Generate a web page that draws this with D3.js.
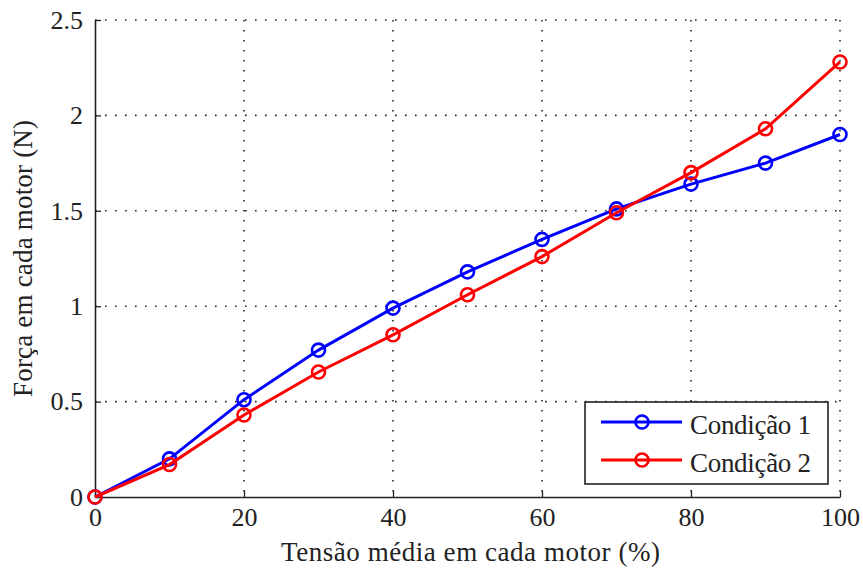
<!DOCTYPE html>
<html>
<head>
<meta charset="utf-8">
<script src="https://cdn.jsdelivr.net/npm/d3@7"></script>
<style>
  body { margin: 0; background: #fff; }
  text { font-family: "Liberation Serif", "DejaVu Serif", serif; }
</style>
</head>
<body>
<div class="container"></div>
<script>
// data
let tensao = [0, 10, 20, 30, 40, 50, 60, 70, 80, 90, 100];
let cond1 = [0, 0.20, 0.51, 0.77, 0.99, 1.18, 1.35, 1.51, 1.64, 1.75, 1.90];
let cond2 = [0, 0.17, 0.43, 0.655, 0.85, 1.06, 1.26, 1.49, 1.70, 1.93, 2.28];
let xTicks = [0, 20, 40, 60, 80, 100];
let yTicks = [0, 0.5, 1, 1.5, 2, 2.5];
let seriesNames = ['Condição 1', 'Condição 2'];
let seriesColors = ['#0000ff', '#ff0000'];

let outerWidth = 863, outerHeight = 571;
let margin = {top: 20, right: 23, bottom: 74, left: 95};
let width = outerWidth - margin.left - margin.right,
    height = outerHeight - margin.top - margin.bottom;
let fontSize = '26px';

let svg = d3.select('.container').append('svg')
  .attr('width', outerWidth)
  .attr('height', outerHeight);

let group = svg.append('g')
  .attr('transform', `translate(${margin.left},${margin.top})`);

let xScale = d3.scaleLinear().domain([0, 100]).range([0, width]);
let yScale = d3.scaleLinear().domain([0, 2.5]).range([height, 0]);

// dotted grid
group.selectAll('.gx').data(xTicks.slice(1)).enter().append('line')
  .attr('x1', d => xScale(d)).attr('x2', d => xScale(d))
  .attr('y1', 0).attr('y2', height)
  .attr('stroke', '#222').attr('stroke-width', 1.6)
  .attr('stroke-dasharray', '1.6,8.4');
group.selectAll('.gy').data(yTicks.slice(1)).enter().append('line')
  .attr('y1', d => yScale(d)).attr('y2', d => yScale(d))
  .attr('x1', 0).attr('x2', width)
  .attr('stroke', '#222').attr('stroke-width', 1.6)
  .attr('stroke-dasharray', '1.6,8.4');

let xAxis = d3.axisBottom(xScale).tickValues(xTicks).tickSizeInner(-6).tickSizeOuter(0).tickPadding(11);
let yAxis = d3.axisLeft(yScale).tickValues(yTicks).tickSizeInner(-6).tickSizeOuter(0).tickPadding(12)
  .tickFormat(d3.format('~g'));

let gx = group.append('g')
  .attr('class', 'axis x-axis')
  .attr('transform', `translate(0,${height})`)
  .call(xAxis);
let gy = group.append('g')
  .attr('class', 'axis y-axis')
  .call(yAxis);

[gx, gy].forEach(g => {
  g.selectAll('path').attr('stroke', '#222').attr('stroke-width', 1.6);
  g.selectAll('line').attr('stroke', '#222').attr('stroke-width', 1.3);
  g.selectAll('text').attr('fill', '#222').style('font-size', fontSize)
    .style('font-family', '"Liberation Serif", serif');
});
gx.selectAll('.tick').filter(d => d === 0).select('line').remove();
gy.selectAll('.tick').filter(d => d === 0).select('line').remove();

// axis titles (stretched a little to the wider look of the original font)
group.append('text')
  .attr('x', 281 - margin.left)
  .attr('y', height + 64)
  .attr('textLength', 379)
  .attr('lengthAdjust', 'spacing')
  .style('font-size', '27px')
  .attr('fill', '#222')
  .text('Tensão média em cada motor (%)');

group.append('text')
  .attr('transform', 'rotate(-90)')
  .attr('x', -(397 - margin.top))
  .attr('y', 32 - margin.left)
  .attr('textLength', 277)
  .attr('lengthAdjust', 'spacing')
  .style('font-size', '27px')
  .attr('fill', '#222')
  .text('Força em cada motor (N)');

let series = [cond1, cond2];
let line = d3.line()
  .x((d, i) => xScale(tensao[i]))
  .y(d => yScale(d));

series.forEach((vals, s) => {
  group.append('path')
    .datum(vals)
    .attr('d', line)
    .attr('fill', 'none')
    .attr('stroke', seriesColors[s])
    .attr('stroke-width', 3);
  group.selectAll('.m' + s).data(vals).enter().append('circle')
    .attr('cx', (d, i) => xScale(tensao[i]))
    .attr('cy', d => yScale(d))
    .attr('r', 6.5)
    .attr('fill', 'none')
    .attr('stroke', seriesColors[s])
    .attr('stroke-width', 2.6);
});

// legend
let legend = group.append('g')
  .attr('transform', `translate(${585 - margin.left},${402 - margin.top})`);
legend.append('rect')
  .attr('width', 243).attr('height', 82)
  .attr('fill', '#fff').attr('stroke', '#222').attr('stroke-width', 1.6);
seriesNames.forEach((name, s) => {
  let yy = 20 + s * 38;
  legend.append('line')
    .attr('x1', 16).attr('x2', 97).attr('y1', yy).attr('y2', yy)
    .attr('stroke', seriesColors[s]).attr('stroke-width', 3);
  legend.append('circle')
    .attr('cx', 57).attr('cy', yy).attr('r', 6.5)
    .attr('fill', 'none').attr('stroke', seriesColors[s]).attr('stroke-width', 2.6);
  legend.append('text')
    .attr('x', 105).attr('y', yy + 12)
    .attr('textLength', 121)
    .attr('lengthAdjust', 'spacing')
    .style('font-size', '27px')
    .attr('fill', '#222')
    .text(name);
});
</script>
</body>
</html>
